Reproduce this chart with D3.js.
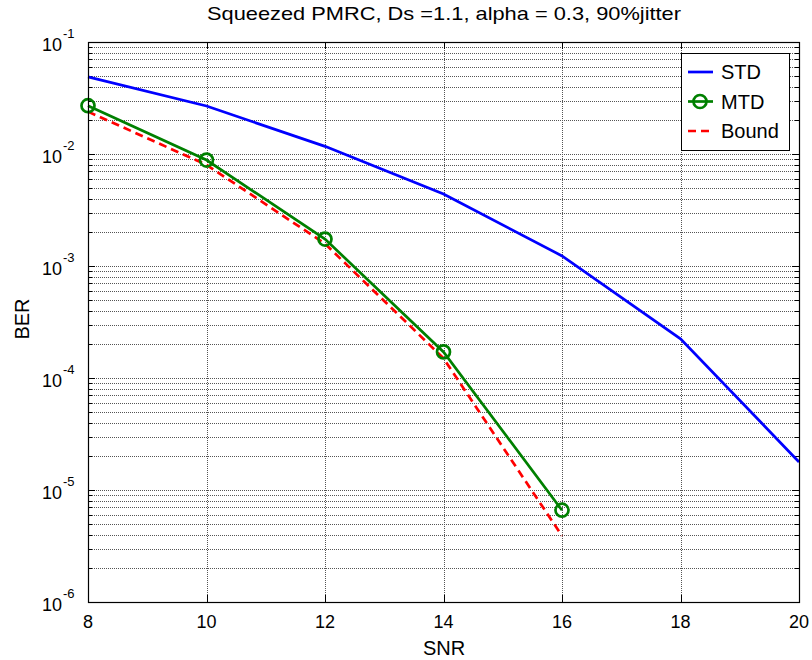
<!DOCTYPE html>
<body style="margin:0;background:#fff">
<svg width="812" height="660" font-family="Liberation Sans, Arial, sans-serif"></svg>
</body>
<script src="https://d3js.org/d3.v7.min.js"></script>
<script>

var snr = [8, 10, 12, 14, 16, 18, 20];
var stdBer = [0.0488, 0.0268, 0.0117, 0.0044, 0.00123, 0.000224, 0.0000178];
var mtdSnr = [8, 10, 12, 14, 16];
var mtdBer = [0.0270, 0.00883, 0.00174, 0.000171, 0.0000066];
var boundBer = [0.0239, 0.0080, 0.00158, 0.000150, 0.0000039];
var xTicks = [8, 10, 12, 14, 16, 18, 20];
var yExps = [-1, -2, -3, -4, -5, -6];
var title = "Squeezed PMRC, Ds =1.1, alpha = 0.3, 90%jitter";

var svg = d3.select("svg");
var pl = 88, pr = 799, pt = 42, pb = 602;

var x = d3.scaleLinear().domain([8, 20]).range([pl, pr]);
var y = d3.scaleLog().domain([1e-6, 1e-1]).range([pb, pt]);

// grid, dotted like matlab
var minor = [];
for (var e = -6; e < -1; e++) {
  for (var m = 1; m < 10; m++) minor.push(m * Math.pow(10, e));
}
minor.push(0.1);

var grid = svg.append("g").attr("stroke", "#555").attr("stroke-dasharray", "1,1").attr("stroke-width", 1);
grid.selectAll(".hg").data(minor).enter().append("line")
    .attr("x1", pl).attr("x2", pr)
    .attr("y1", function(d) { return Math.round(y(d)) + 0.5; })
    .attr("y2", function(d) { return Math.round(y(d)) + 0.5; });
grid.selectAll(".vg").data(xTicks.slice(1, -1)).enter().append("line")
    .attr("y1", pt).attr("y2", pb)
    .attr("x1", function(d) { return Math.round(x(d)) + 0.5; })
    .attr("x2", function(d) { return Math.round(x(d)) + 0.5; });

// ticks
var tk = svg.append("g").attr("stroke", "#000").attr("stroke-width", 1);
minor.forEach(function(d) {
  var yy = Math.round(y(d)) + 0.5;
  var len = (Math.abs(Math.log10(d) - Math.round(Math.log10(d))) < 1e-9) ? 7 : 4;
  tk.append("line").attr("x1", pl).attr("x2", pl + len).attr("y1", yy).attr("y2", yy);
  tk.append("line").attr("x1", pr - len).attr("x2", pr).attr("y1", yy).attr("y2", yy);
});
xTicks.forEach(function(d) {
  var xx = Math.round(x(d)) + 0.5;
  tk.append("line").attr("x1", xx).attr("x2", xx).attr("y1", pb).attr("y2", pb - 7);
  tk.append("line").attr("x1", xx).attr("x2", xx).attr("y1", pt).attr("y2", pt + 7);
});

// series
var line = d3.line().x(function(d) { return x(d[0]); }).y(function(d) { return y(d[1]); });

svg.append("path")
    .datum(d3.zip(snr, stdBer))
    .attr("d", line).attr("fill", "none").attr("stroke", "#0000ff").attr("stroke-width", 2.7);

svg.append("path")
    .datum(d3.zip(mtdSnr, boundBer))
    .attr("d", line).attr("fill", "none").attr("stroke", "#ff0000").attr("stroke-width", 2.7)
    .attr("stroke-dasharray", "8,5");

svg.append("path")
    .datum(d3.zip(mtdSnr, mtdBer))
    .attr("d", line).attr("fill", "none").attr("stroke", "#008000").attr("stroke-width", 2.7);

svg.selectAll(".mk").data(d3.zip(mtdSnr, mtdBer)).enter().append("circle")
    .attr("cx", function(d) { return x(d[0]); })
    .attr("cy", function(d) { return y(d[1]); })
    .attr("r", 6.5).attr("fill", "none").attr("stroke", "#008000").attr("stroke-width", 2.7);

// axes box
svg.append("rect").attr("x", pl + 0.5).attr("y", pt + 0.5)
    .attr("width", pr - pl).attr("height", pb - pt)
    .attr("fill", "none").attr("stroke", "#000").attr("stroke-width", 1.2);

// tick labels
svg.selectAll(".xl").data(xTicks).enter().append("text")
    .attr("x", function(d) { return x(d); }).attr("y", 628)
    .attr("text-anchor", "middle").attr("font-size", 18).text(function(d) { return d; });

yExps.forEach(function(e) {
  svg.append("text").attr("x", 62).attr("y", y(Math.pow(10, e)) + 9)
      .attr("text-anchor", "end").attr("font-size", 18).text("10");
  svg.append("text").attr("x", 63).attr("y", y(Math.pow(10, e)) - 4)
      .attr("font-size", 13).text(e);
});

svg.append("text").attr("x", 444).attr("y", 655).attr("text-anchor", "middle")
    .attr("font-size", 20).text("SNR");
svg.append("text").attr("transform", "translate(29,319) rotate(-90)").attr("text-anchor", "middle")
    .attr("font-size", 20).text("BER");
svg.append("text").attr("x", 444).attr("y", 20).attr("text-anchor", "middle")
    .attr("font-size", 19).attr("textLength", 474).attr("lengthAdjust", "spacingAndGlyphs").text(title);

// legend
var lg = svg.append("g");
lg.append("rect").attr("x", 681.5).attr("y", 53.5).attr("width", 108).attr("height", 97)
    .attr("fill", "#fff").attr("stroke", "#000");
var items = [
  {name: "STD", color: "#0000ff", dash: null, marker: false},
  {name: "MTD", color: "#008000", dash: null, marker: true},
  {name: "Bound", color: "#ff0000", dash: "8,5", marker: false}
];
items.forEach(function(it, i) {
  var yy = 72 + i * 29.5;
  lg.append("line").attr("x1", 688).attr("x2", 713).attr("y1", yy).attr("y2", yy)
      .attr("stroke", it.color).attr("stroke-width", 2.7).attr("stroke-dasharray", it.dash);
  if (it.marker) lg.append("circle").attr("cx", 700).attr("cy", yy).attr("r", 6.5)
      .attr("fill", "none").attr("stroke", it.color).attr("stroke-width", 2.7);
  lg.append("text").attr("x", 721).attr("y", yy + 7).attr("font-size", 20).text(it.name);
});

</script>
